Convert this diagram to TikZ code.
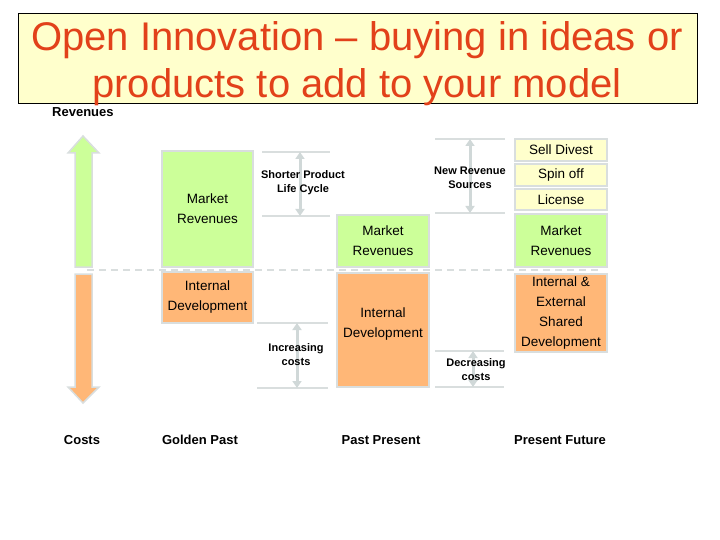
\documentclass[tikz,border=0pt]{standalone}
\usepackage{fontspec}
\setmainfont{Liberation Sans}
\usetikzlibrary{arrows.meta}
\definecolor{titlered}{HTML}{E2411A}
\definecolor{paleyellow}{HTML}{FFFFCC}
\definecolor{mgreen}{HTML}{CCFF99}
\definecolor{morange}{HTML}{FFB777}
\definecolor{bgray}{HTML}{D9DEDE}
\definecolor{agray}{HTML}{D0D8D8}
\tikzset{
  box/.style={draw=bgray, line width=1.2pt, inner sep=0pt, align=center,
    font=\fontsize{13.5}{20}\selectfont},
  boxtext/.style={inner sep=0pt, align=center, font=\fontsize{13.5}{20}\selectfont},
  greenbox/.style={box, fill=mgreen},
  orangebox/.style={box, fill=morange},
  yellowbox/.style={box, fill=paleyellow},
  guide/.style={draw=bgray, line width=1.5pt},
  dbl/.style={draw=agray, line width=3pt, {Triangle[width=9pt,length=7pt]}-{Triangle[width=9pt,length=7pt]}},
  blabel/.style={font=\bfseries\fontsize{11}{14}\selectfont, align=center, inner sep=0pt},
  axlabel/.style={font=\bfseries\fontsize{13}{16}\selectfont, inner sep=0pt},
}
\begin{document}
\begin{tikzpicture}[x=1pt,y=-1pt]
\useasboundingbox (0,0) rectangle (720,540);
% title
\node[draw=black, line width=0.8pt, fill=paleyellow, minimum width=679pt, minimum height=90pt, anchor=north west, inner sep=0pt] (titlebox) at (18,13) {};
\node[text=titlered, font=\fontsize{40}{47}\selectfont, align=center, inner sep=0pt] (title) at (357,64) {Open Innovation -- buying in ideas or\\products to add to your model};
\node[axlabel, anchor=west] (rev) at (52,112) {Revenues};
% axis arrows
\draw[fill=mgreen, draw=bgray, line width=1.5pt] (83,136) -- (99,153) -- (92,153) -- (92,267) -- (75,267) -- (75,153) -- (68,153) -- cycle;
\draw[fill=morange, draw=bgray, line width=1.5pt] (75,274) -- (92,274) -- (92,387) -- (99,387) -- (83,403) -- (68,387) -- (75,387) -- cycle;
% dashed divider
\coordinate (dl) at (87,270);
\coordinate (dr) at (600,270);
\draw[draw=bgray, line width=1.5pt, dash pattern=on 7pt off 5pt] (dl) -- (dr);
% Golden past
\node[greenbox, minimum width=91pt, minimum height=116pt] (gpm) at (207.5,209) {Market\\Revenues};
\node[orangebox, minimum width=91pt, minimum height=51pt] (gpi) at (207.5,297.5) {Internal\\Development};
% Shorter product life cycle
\coordinate (s1l) at (262,152); \coordinate (s1r) at (330,152);
\coordinate (s2l) at (262,216); \coordinate (s2r) at (330,216);
\draw[guide] (s1l) -- (s1r);
\draw[guide] (s2l) -- (s2r);
\coordinate (sa) at (300,152); \coordinate (sb) at (300,216);
\draw[dbl] (sa) -- (sb);
\node[blabel] (spl) at (303,183) {Shorter Product\\Life Cycle};
% Increasing costs
\coordinate (i1l) at (257,323); \coordinate (i1r) at (328,323);
\coordinate (i2l) at (257,388); \coordinate (i2r) at (328,388);
\draw[guide] (i1l) -- (i1r);
\draw[guide] (i2l) -- (i2r);
\coordinate (ia) at (297,323); \coordinate (ib) at (297,388);
\draw[dbl] (ia) -- (ib);
\node[blabel] (ic) at (296,355) {Increasing\\costs};
% Past present
\node[greenbox, minimum width=92pt, minimum height=52pt] (ppm) at (383,241) {Market\\Revenues};
\node[orangebox, minimum width=92pt, minimum height=114pt] (ppi) at (383,330) {};
\node[boxtext] (ppit) at (383,324) {Internal\\Development};
% New revenue sources
\coordinate (n1l) at (435,139); \coordinate (n1r) at (505,139);
\coordinate (n2l) at (435,213); \coordinate (n2r) at (505,213);
\draw[guide] (n1l) -- (n1r);
\draw[guide] (n2l) -- (n2r);
\coordinate (na) at (470,139); \coordinate (nb) at (470,213);
\draw[dbl] (na) -- (nb);
\node[blabel] (nrs) at (470,178) {New Revenue\\Sources};
% Decreasing costs
\coordinate (d1l) at (435,351); \coordinate (d1r) at (504,351);
\coordinate (d2l) at (435,387); \coordinate (d2r) at (504,387);
\draw[guide] (d1l) -- (d1r);
\draw[guide] (d2l) -- (d2r);
\coordinate (da) at (473,351); \coordinate (db) at (473,387);
\draw[dbl] (da) -- (db);
\node[blabel] (dc) at (476,370) {Decreasing\\costs};
% Present future
\node[yellowbox, minimum width=92pt, minimum height=22pt] (sell) at (561,150) {Sell Divest};
\node[yellowbox, minimum width=92pt, minimum height=22pt] (spin) at (561,175) {Spin off};
\node[yellowbox, minimum width=92pt, minimum height=21pt] (lic) at (561,199.5) {License};
\node[greenbox, minimum width=92pt, minimum height=53pt] (pfm) at (561,240.5) {Market\\Revenues};
\node[orangebox, minimum width=92pt, minimum height=78pt] (pfi) at (561,313) {Internal \&\\External\\Shared\\Development};
% bottom labels
\node[axlabel] (costs) at (82,440) {Costs};
\node[axlabel] (gp) at (200,440) {Golden Past};
\node[axlabel] (pp) at (381,440) {Past Present};
\node[axlabel] (pf) at (560,440) {Present Future};
\end{tikzpicture}
\end{document}
